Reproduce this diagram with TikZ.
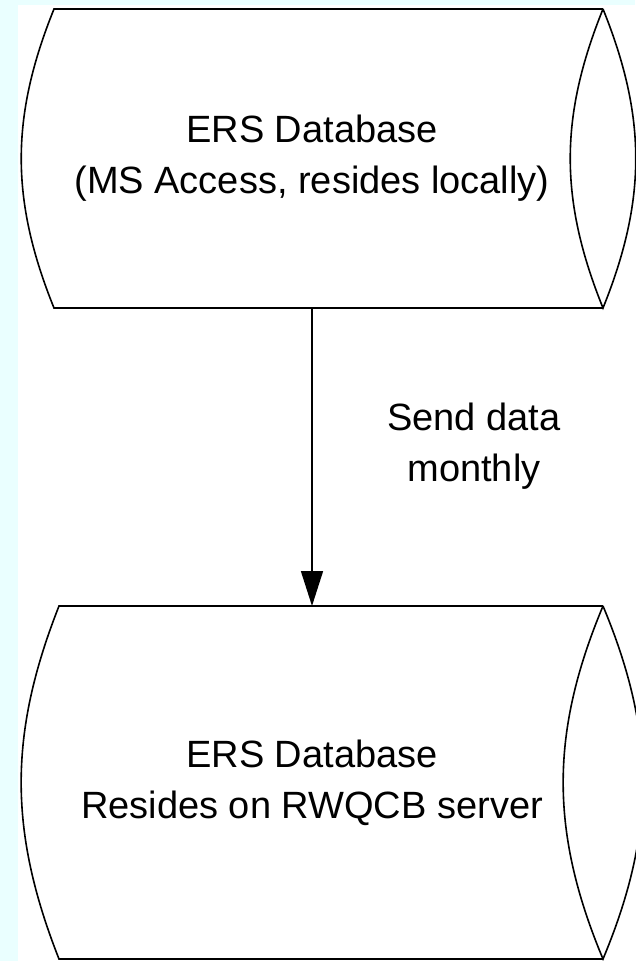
\documentclass[tikz,border=0pt]{standalone}
\usepackage{fontspec}
\setmainfont{Liberation Sans}
\usetikzlibrary{arrows.meta}
\definecolor{pagecyan}{RGB}{234,255,255}
\begin{document}
\begin{tikzpicture}[x=1pt,y=-1pt,
    db/.style={align=center, outer sep=0pt, inner sep=0pt, font=\fontsize{38}{51}\selectfont},
    dbline/.style={line width=1.6pt, line join=miter},
    flow/.style={-{Triangle[length=35pt,width=22pt]}, line width=1.6pt}]
    % Page
    \fill[pagecyan] (0,0) rectangle (635,961);
    \fill[white] (18,5) rectangle (635,961);
    \useasboundingbox (0,0) rectangle (635,961);

    % Local database
    \node[db, minimum width=582pt, minimum height=299pt] (localdb) at (312,158.5) {ERS Database\\(MS Access, resides locally)};
    \draw[dbline] (localdb.north east) -- ([xshift=33pt]localdb.north west)
        to[bend right=22] ([xshift=33pt]localdb.south west) -- (localdb.south east);
    \draw[dbline] (localdb.north east) to[bend right=22] (localdb.south east)
        to[bend right=22] (localdb.north east);

    % Server database
    \node[db, minimum width=582pt, minimum height=353pt] (serverdb) at (312,782.5) {ERS Database\\Resides on RWQCB server};
    \draw[dbline] (serverdb.north east) -- ([xshift=38pt]serverdb.north west)
        to[bend right=21.5] ([xshift=38pt]serverdb.south west) -- (serverdb.south east);
    \draw[dbline] (serverdb.north east) to[bend right=22.7] (serverdb.south east)
        to[bend right=22.7] (serverdb.north east);

    % Transfer
    \draw[flow] (localdb.south) -- (serverdb.north);
    \node[db] (sendtxt) at (474,446) {Send data\\monthly};
\end{tikzpicture}
\end{document}
